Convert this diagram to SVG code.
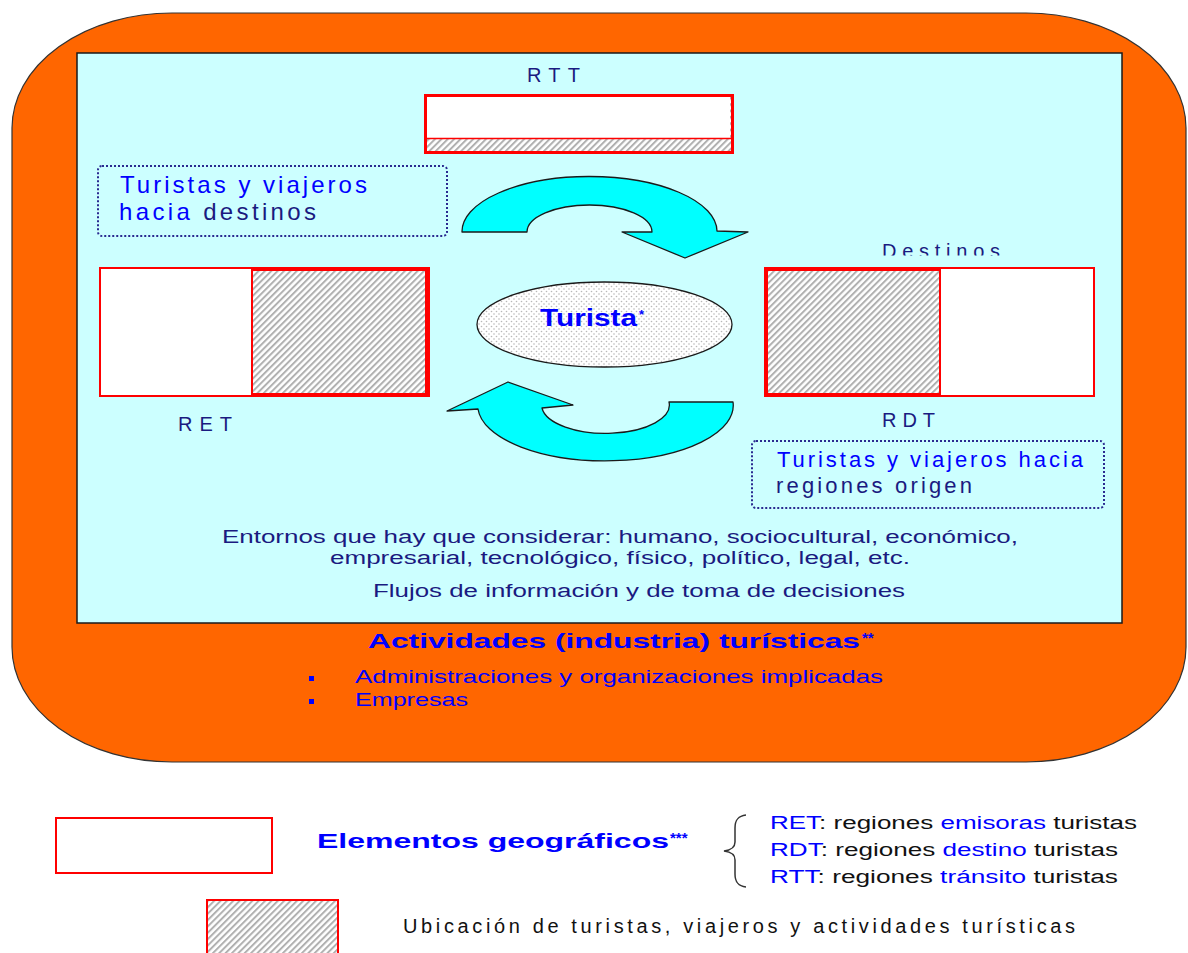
<svg xmlns="http://www.w3.org/2000/svg" width="1188" height="953" viewBox="0 0 1188 953">
<defs>
<pattern id="hatch" patternUnits="userSpaceOnUse" width="4.5" height="4.5" patternTransform="rotate(45)">
<rect width="4.5" height="4.5" fill="#ffffff"/>
<rect x="0" y="0" width="2" height="4.5" fill="#b0b0b0"/>
</pattern>
<pattern id="dots" patternUnits="userSpaceOnUse" width="5" height="5">
<rect width="5" height="5" fill="#ffffff"/>
<circle cx="1.5" cy="1.5" r="0.8" fill="#b8b8b8"/>
<circle cx="4" cy="4" r="0.8" fill="#b8b8b8"/>
</pattern>
<clipPath id="destClip"><rect x="860" y="230" width="160" height="25.5"/></clipPath>
<style>
text{font-family:"Liberation Sans",Arial,sans-serif;}
.navy{fill:#1a1a80;}
.blue{fill:#0000ff;}
.blk{fill:#111111;}
.bold{font-weight:bold;}
.dotbox{fill:none;stroke:#2a2a90;stroke-width:2;stroke-dasharray:2 2;}
.arrow{fill:#00ffff;stroke:#1a1a1a;stroke-width:1.3;stroke-linejoin:round;}
</style>
</defs>

<g id="outer">
<rect x="12" y="13" width="1174" height="749" rx="160" ry="115" fill="#ff6600" stroke="#333333" stroke-width="1.2"/>
</g>
<g id="entorno">
<rect x="77" y="53" width="1045" height="570" fill="#ccffff" stroke="#1a1a1a" stroke-width="1.5"/>
</g>

<g id="rtt">
<rect x="426" y="96" width="306" height="56" fill="url(#hatch)"/>
<rect x="427" y="97" width="303" height="41" fill="#ffffff"/>
<line x1="426" y1="138.5" x2="732" y2="138.5" stroke="#ff0000" stroke-width="1.5"/>
<rect x="425.5" y="95.5" width="307" height="57" fill="none" stroke="#ff0000" stroke-width="3"/>
<text x="527" y="82" font-size="20" class="navy" textLength="53" lengthAdjust="spacing">RTT</text>
</g>

<g id="ret">
<rect x="100" y="268" width="329" height="128" fill="#ffffff" stroke="#ff0000" stroke-width="2"/>
<rect x="252" y="270" width="174" height="124" fill="url(#hatch)" stroke="#ff0000" stroke-width="2"/>
<line x1="427" y1="268" x2="427" y2="396" stroke="#ff0000" stroke-width="3.5"/>
<text x="178" y="431" font-size="20" class="navy" textLength="54" lengthAdjust="spacing">RET</text>
</g>

<g id="rdt">
<rect x="765" y="268" width="329" height="128" fill="#ffffff" stroke="#ff0000" stroke-width="2"/>
<rect x="767" y="270" width="173" height="124" fill="url(#hatch)" stroke="#ff0000" stroke-width="2"/>
<line x1="766" y1="395" x2="940" y2="395" stroke="#ff0000" stroke-width="3"/>
<text x="882" y="427" font-size="20" class="navy" textLength="53" lengthAdjust="spacing">RDT</text>
<text x="882" y="258" font-size="20" class="navy" textLength="118" lengthAdjust="spacing" clip-path="url(#destClip)">Destinos</text>
</g>

<g id="turista">
<ellipse cx="604.5" cy="324.5" rx="127.5" ry="42.5" fill="url(#dots)" stroke="#1a1a1a" stroke-width="1.3"/>
<text x="540" y="326" font-size="23" class="blue bold" textLength="97" lengthAdjust="spacingAndGlyphs">Turista</text>
<text x="639" y="319" font-size="13" class="blue bold">*</text>
</g>

<g id="box-hacia-destinos">
<rect x="98" y="166" width="349" height="70" rx="4" class="dotbox"/>
<text x="120" y="193" font-size="24" class="blue" textLength="247" lengthAdjust="spacing">Turistas y viajeros</text>
<text x="119" y="220" font-size="24" textLength="197" lengthAdjust="spacing"><tspan class="blue">hacia </tspan><tspan class="navy">destinos</tspan></text>
</g>

<g id="box-hacia-origen">
<rect x="752" y="441" width="352" height="67" rx="4" class="dotbox"/>
<text x="777" y="467" font-size="22" class="blue" textLength="306" lengthAdjust="spacing">Turistas y viajeros hacia</text>
<text x="776" y="493" font-size="22" class="navy" textLength="196" lengthAdjust="spacing">regiones origen</text>
</g>

<g id="connectors">
<path class="arrow" d="M462,232 A127.5,55 0 0 1 717,231 L748,232 L685,258 L622,232 L652,232 A62.5,27 0 0 0 527,232 Z"/>
<path class="arrow" d="M733,402 A127,55 0 0 1 478,409 L447,411 L508,382 L573,405 L542,408 A63,28 0 0 0 669,402 Z"/>
</g>

<g id="entornos-text">
<text x="222" y="543" font-size="18" class="navy" textLength="796" lengthAdjust="spacingAndGlyphs">Entornos que hay que considerar: humano, sociocultural, económico,</text>
<text x="330" y="564" font-size="18" class="navy" textLength="580" lengthAdjust="spacingAndGlyphs">empresarial, tecnológico, físico, político, legal, etc.</text>
<text x="373" y="597" font-size="18" class="navy" textLength="532" lengthAdjust="spacingAndGlyphs">Flujos de información y de toma de decisiones</text>
</g>

<g id="actividades">
<text x="368" y="648" font-size="21" class="blue bold" textLength="492" lengthAdjust="spacingAndGlyphs">Actividades (industria) turísticas</text>
<text x="862" y="643" font-size="15" class="blue bold">**</text>
<rect x="309" y="676" width="5" height="5" fill="#0000ff"/>
<rect x="309" y="699" width="5" height="5" fill="#0000ff"/>
<text x="355" y="683" font-size="19" class="blue" textLength="528" lengthAdjust="spacingAndGlyphs">Administraciones y organizaciones implicadas</text>
<text x="355" y="706" font-size="19" class="blue" textLength="113" lengthAdjust="spacingAndGlyphs">Empresas</text>
</g>

<g id="legend-geo">
<rect x="56" y="818" width="216" height="55" fill="#ffffff" stroke="#ff0000" stroke-width="2"/>
<text x="317" y="848" font-size="21" class="blue bold" textLength="352" lengthAdjust="spacingAndGlyphs">Elementos geográficos</text>
<text x="670" y="843" font-size="15" class="blue bold">***</text>
<path d="M746,815 C738,816 735,820 735,828 L735,842 C735,848 731,850 724,851 C731,852 735,854 735,860 L735,874 C735,882 738,886 746,887" fill="none" stroke="#333333" stroke-width="1.5"/>
<text x="770" y="829" font-size="18" textLength="367" lengthAdjust="spacingAndGlyphs"><tspan class="blue">RET</tspan><tspan class="blk">: regiones </tspan><tspan class="blue">emisoras</tspan><tspan class="blk"> turistas</tspan></text>
<text x="770" y="856" font-size="18" textLength="348" lengthAdjust="spacingAndGlyphs"><tspan class="blue">RDT</tspan><tspan class="blk">: regiones </tspan><tspan class="blue">destino</tspan><tspan class="blk"> turistas</tspan></text>
<text x="770" y="883" font-size="18" textLength="348" lengthAdjust="spacingAndGlyphs"><tspan class="blue">RTT</tspan><tspan class="blk">: regiones </tspan><tspan class="blue">tránsito</tspan><tspan class="blk"> turistas</tspan></text>
</g>

<g id="legend-ubicacion">
<rect x="207" y="900" width="131" height="70" fill="url(#hatch)" stroke="#ff0000" stroke-width="2"/>
<text x="403" y="933" font-size="20" class="blk" textLength="672" lengthAdjust="spacing">Ubicación de turistas, viajeros y actividades turísticas</text>
</g>
</svg>
